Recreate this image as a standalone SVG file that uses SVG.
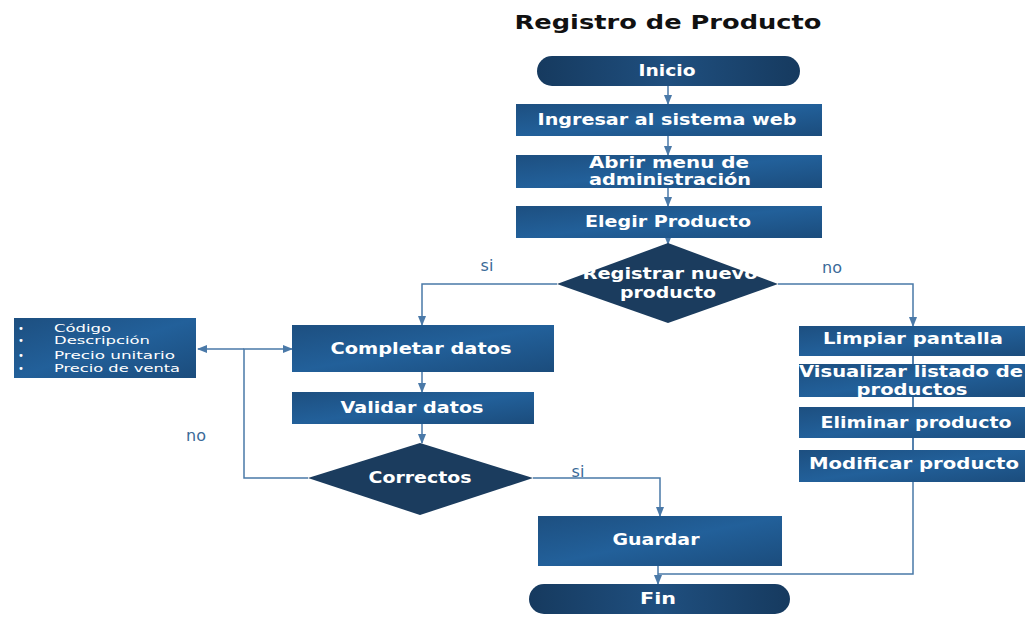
<svg xmlns="http://www.w3.org/2000/svg" width="1026" height="620" viewBox="0 0 1026 620">
<defs>
<linearGradient id="gbox" x1="0" y1="0" x2="1" y2="1">
<stop offset="0" stop-color="#1d4f80"/><stop offset="0.5" stop-color="#22609a"/><stop offset="1" stop-color="#1b4c7c"/>
</linearGradient>
<linearGradient id="gterm" x1="0" y1="0" x2="1" y2="0">
<stop offset="0" stop-color="#163a5f"/><stop offset="0.5" stop-color="#1f4f7f"/><stop offset="1" stop-color="#163a5f"/>
</linearGradient>
<marker id="arr" viewBox="0 0 10 10" refX="9" refY="5" markerWidth="7" markerHeight="7" orient="auto-start-reverse">
<path d="M0,1 L10,5 L0,9 z" fill="#4a79a8"/>
</marker>
</defs>
<style>
.box{fill:url(#gbox);}
.term{fill:url(#gterm);}
.dia{fill:#1b3c5e;}
.t{font-family:"DejaVu Sans",Verdana,sans-serif;font-size:15px;font-weight:bold;fill:#ffffff;text-anchor:middle;dominant-baseline:central;}
.sm{font-family:"DejaVu Sans",Verdana,sans-serif;font-size:10px;fill:#ffffff;dominant-baseline:central;}
.lbl{font-family:"DejaVu Sans",Verdana,sans-serif;font-size:16px;fill:#3a6a98;text-anchor:middle;dominant-baseline:central;}
.c{fill:none;stroke:#4a79a8;stroke-width:1.5;}
</style>
<rect width="1026" height="620" fill="#ffffff"/>
<text x="668" y="22" font-family="DejaVu Sans,Verdana,sans-serif" font-size="19" font-weight="bold" fill="#111" text-anchor="middle" dominant-baseline="central" textLength="307" lengthAdjust="spacingAndGlyphs">Registro de Producto</text>

<g id="connectors">
<path class="c" d="M668,86 V104" marker-end="url(#arr)"/>
<path class="c" d="M668,136 V155" marker-end="url(#arr)"/>
<path class="c" d="M668,188 V206" marker-end="url(#arr)"/>
<path class="c" d="M668,238 V244" marker-end="url(#arr)"/>
<path class="c" d="M557,284 H422 V325" marker-end="url(#arr)"/>
<path class="c" d="M778,284 H913 V326" marker-end="url(#arr)"/>
<path class="c" d="M913,356 V574 H658"/>
<path class="c" d="M422,372 V392" marker-end="url(#arr)"/>
<path class="c" d="M422,424 V443" marker-end="url(#arr)"/>
<path class="c" d="M308,478 H244 V349 H292" marker-end="url(#arr)"/>
<path class="c" d="M244,349 H198" marker-end="url(#arr)"/>
<path class="c" d="M533,478 H660 V516" marker-end="url(#arr)"/>
<path class="c" d="M658,566 V584" marker-end="url(#arr)"/>
<text class="lbl" x="487" y="265">si</text>
<text class="lbl" x="832" y="267">no</text>
<text class="lbl" x="196" y="435">no</text>
<text class="lbl" x="578" y="471">si</text>
</g>

<g id="inicio"><rect class="term" x="537" y="56" width="263" height="30" rx="15"/><text class="t" x="667" y="71" textLength="57" lengthAdjust="spacingAndGlyphs">Inicio</text></g>
<g id="ingresar"><rect class="box" x="516" y="104" width="306" height="32"/><text class="t" x="667" y="120" textLength="259" lengthAdjust="spacingAndGlyphs">Ingresar al sistema web</text></g>
<g id="abrir"><rect class="box" x="516" y="155" width="306" height="33"/><text class="t" x="669" y="163" textLength="160" lengthAdjust="spacingAndGlyphs">Abrir menu de</text><text class="t" x="670" y="180" textLength="162" lengthAdjust="spacingAndGlyphs">administración</text></g>
<g id="elegir"><rect class="box" x="516" y="206" width="306" height="32"/><text class="t" x="668" y="222" textLength="166" lengthAdjust="spacingAndGlyphs">Elegir Producto</text></g>
<g id="registrar"><polygon class="dia" points="668,243 778,284 668,323 557,284"/><text class="t" x="670" y="274" textLength="175" lengthAdjust="spacingAndGlyphs">Registrar nuevo</text><text class="t" x="668" y="293" textLength="96" lengthAdjust="spacingAndGlyphs">producto</text></g>
<g id="lista"><rect class="box" x="14" y="318" width="182" height="60"/>
<text class="sm" x="18" y="328">•</text><text class="sm" x="54" y="328" textLength="57" lengthAdjust="spacingAndGlyphs">Código</text>
<text class="sm" x="18" y="340">•</text><text class="sm" x="54" y="340" textLength="96" lengthAdjust="spacingAndGlyphs">Descripción</text>
<text class="sm" x="18" y="355">•</text><text class="sm" x="54" y="355" textLength="121" lengthAdjust="spacingAndGlyphs">Precio unitario</text>
<text class="sm" x="18" y="368">•</text><text class="sm" x="54" y="368" textLength="126" lengthAdjust="spacingAndGlyphs">Precio de venta</text>
</g>
<g id="completar"><rect class="box" x="292" y="325" width="262" height="47"/><text class="t" x="421" y="349" textLength="181" lengthAdjust="spacingAndGlyphs">Completar datos</text></g>
<g id="validar"><rect class="box" x="292" y="392" width="242" height="32"/><text class="t" x="412" y="408" textLength="143" lengthAdjust="spacingAndGlyphs">Validar datos</text></g>
<g id="correctos"><polygon class="dia" points="420,443 533,478 420,515 308,478"/><text class="t" x="420" y="478" textLength="103" lengthAdjust="spacingAndGlyphs">Correctos</text></g>
<g id="guardar"><rect class="box" x="538" y="516" width="244" height="50"/><text class="t" x="656" y="540" textLength="87" lengthAdjust="spacingAndGlyphs">Guardar</text></g>
<g id="fin"><rect class="term" x="529" y="584" width="261" height="30" rx="15"/><text class="t" x="658" y="599" textLength="36" lengthAdjust="spacingAndGlyphs">Fin</text></g>
<g id="limpiar"><rect class="box" x="799" y="326" width="226" height="30"/><text class="t" x="913" y="339" textLength="180" lengthAdjust="spacingAndGlyphs">Limpiar pantalla</text></g>
<g id="visualizar"><rect class="box" x="799" y="364" width="226" height="33"/><text class="t" x="911" y="372" textLength="224" lengthAdjust="spacingAndGlyphs">Visualizar listado de</text><text class="t" x="912" y="390" textLength="111" lengthAdjust="spacingAndGlyphs">productos</text></g>
<g id="eliminar"><rect class="box" x="799" y="407" width="226" height="31"/><text class="t" x="916" y="423" textLength="191" lengthAdjust="spacingAndGlyphs">Eliminar producto</text></g>
<g id="modificar"><rect class="box" x="799" y="450" width="226" height="32"/><text class="t" x="914" y="464" textLength="210" lengthAdjust="spacingAndGlyphs">Modificar producto</text></g>
<path class="c" d="M913,356 V364 M913,397 V407 M913,438 V450"/>
</svg>
